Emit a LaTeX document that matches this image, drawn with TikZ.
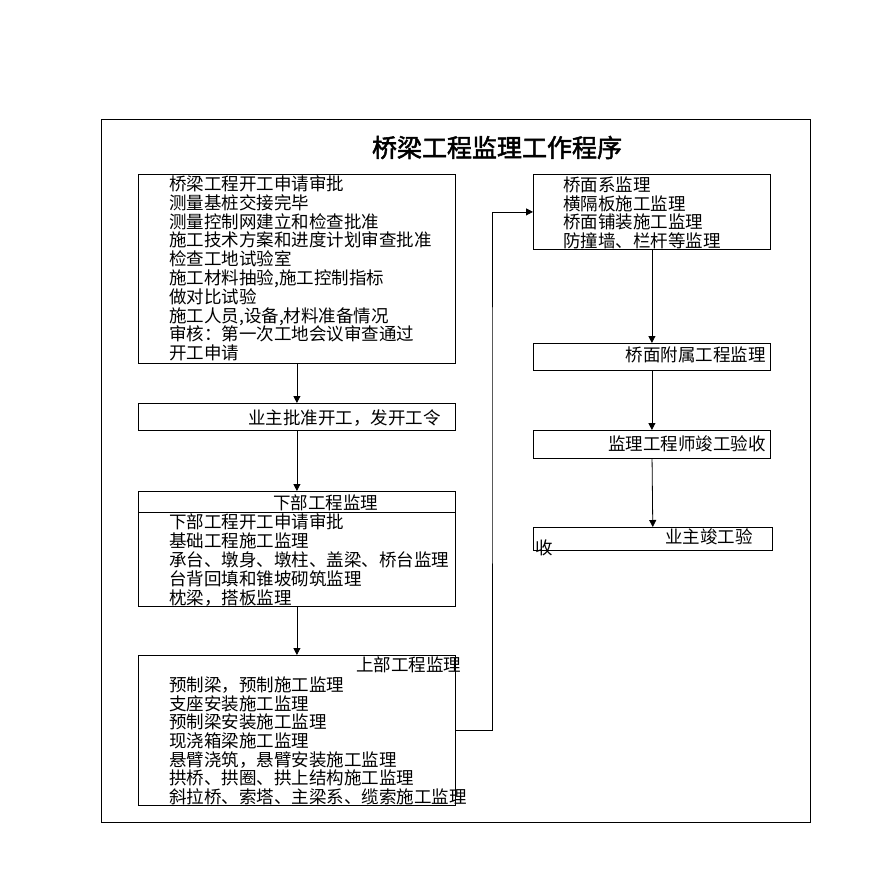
\documentclass[tikz,border=0pt]{standalone}
\usepackage{fontspec}
\usetikzlibrary{arrows.meta}
\newfontfamily\cjk{Noto Sans CJK SC}
\newfontfamily\cjkbold[FakeBold=2]{Noto Sans CJK SC}
\tikzset{
	box/.style={draw, line width=0.8pt, inner sep=0pt, anchor=north west},
	txt/.style={inner sep=0pt, align=left, anchor=base west, font=\cjk\fontsize{17.5}{18.8}\selectfont},
	arr/.style={-{Triangle[length=7pt,width=7pt]}, line width=0.8pt}
}
\begin{document}
\begin{tikzpicture}[x=1pt,y=-1pt]
	\useasboundingbox (0,0) rectangle (880,880);
	\node[box, minimum width=709pt, minimum height=703pt] (frame) at (101,119) {};
	\node[inner sep=0pt, anchor=base, font=\cjkbold\fontsize{25}{25}\selectfont] (title) at (497,157) {桥梁工程监理工作程序};

	\node[box, minimum width=317pt, minimum height=189pt] (b1) at (138,174) {};
	\node[box, minimum width=317pt, minimum height=27pt] (b2) at (138,403) {};
	\node[box, minimum width=317pt, minimum height=115pt] (b3) at (138,491) {};
	\node[box, minimum width=317pt, minimum height=150pt] (b4) at (138,655) {};
	\node[box, minimum width=237pt, minimum height=75pt] (b5) at (533,174) {};
	\node[box, minimum width=237pt, minimum height=27pt] (b6) at (533,343) {};
	\node[box, minimum width=237pt, minimum height=28pt] (b7) at (533,430) {};
	\node[box, minimum width=239pt, minimum height=23pt] (b8) at (533,527) {};
	\draw[line width=0.8pt] ([yshift=-21pt]b3.north west) -- ([yshift=-21pt]b3.north east);

	\node[txt] (t1) at (169,359.6) {桥梁工程开工申请审批\\测量基桩交接完毕\\测量控制网建立和检查批准\\施工技术方案和进度计划审查批准\\检查工地试验室\\施工材料抽验,施工控制指标\\做对比试验\\施工人员,设备,材料准备情况\\审核：第一次工地会议审查通过\\开工申请};
	\node[txt] (t2) at (248,424) {业主批准开工，发开工令};
	\node[txt] (h3) at (273,509.6) {下部工程监理};
	\node[txt, font=\cjk\fontsize{17.5}{19}\selectfont] (t3) at (169,604.6) {下部工程开工申请审批\\基础工程施工监理\\承台、墩身、墩柱、盖梁、桥台监理\\台背回填和锥坡砌筑监理\\枕梁，搭板监理};
	\node[txt] (h4) at (356,671.6) {上部工程监理};
	\node[txt, font=\cjk\fontsize{17.5}{18.67}\selectfont] (t4) at (169,803.6) {预制梁，预制施工监理\\支座安装施工监理\\预制梁安装施工监理\\现浇箱梁施工监理\\悬臂浇筑，悬臂安装施工监理\\拱桥、拱圈、拱上结构施工监理\\斜拉桥、索塔、主梁系、缆索施工监理};
	\node[txt, font=\cjk\fontsize{17.5}{18.7}\selectfont] (t5) at (563,247.6) {桥面系监理\\横隔板施工监理\\桥面铺装施工监理\\防撞墙、栏杆等监理};
	\node[txt, anchor=base east] (t6) at (766,361.6) {桥面附属工程监理};
	\node[txt, anchor=base east] (t7) at (766,450.6) {监理工程师竣工验收};
	\node[txt] (t8) at (665,543.6) {业主竣工验};
	\node[txt] (t8b) at (535,554.6) {收};

	\draw[arr] (b1) -- (b2);
	\draw[arr] (b2) -- (b3);
	\draw[arr] (b3) -- (b4);
	\coordinate (turn) at (492,400);
	\draw[arr] (b4.east) -| (turn) |- (b5.west);
	\draw[arr] (b5) -- (b6);
	\draw[arr] (b6) -- (b7);
	\draw[arr] (b7) -- (b8);
\end{tikzpicture}
\end{document}
